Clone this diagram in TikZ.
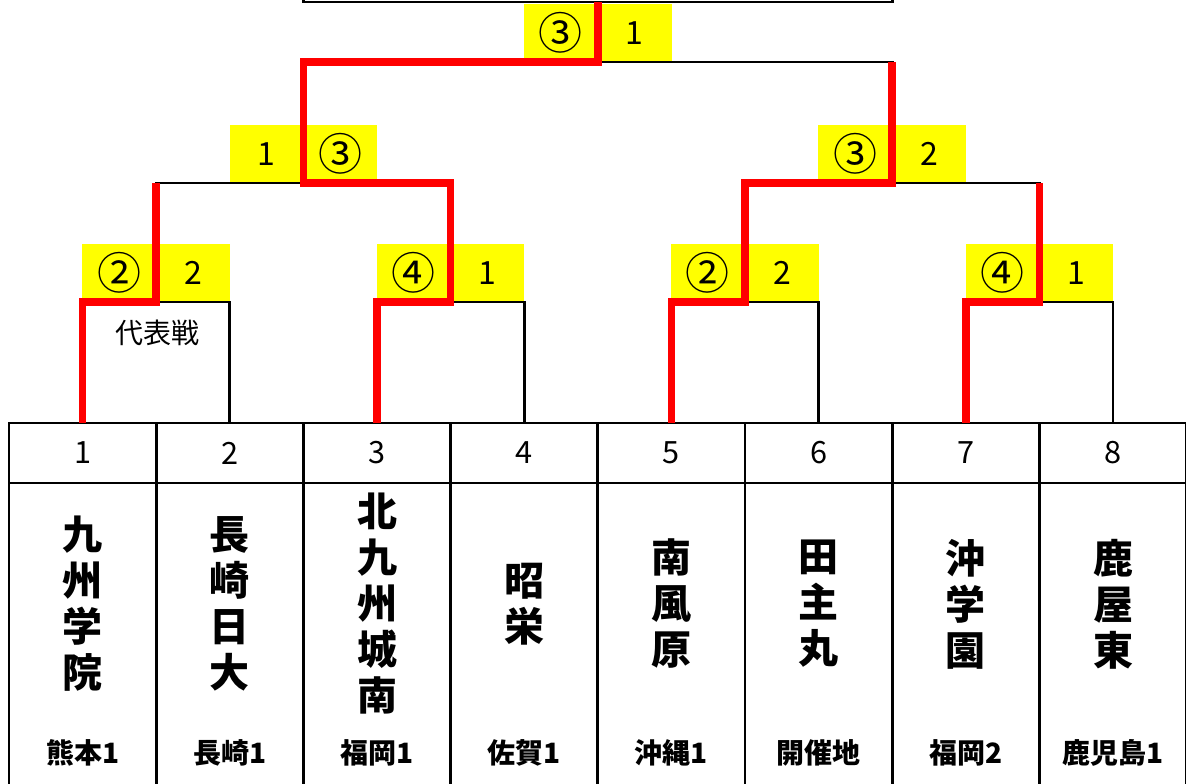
\documentclass[tikz,border=0pt]{standalone}
\usepackage{fontspec}
\setmainfont{Noto Sans CJK JP}
\usetikzlibrary{positioning, calc}
\definecolor{scoreyellow}{HTML}{FFFF00}
\definecolor{winred}{HTML}{FF0000}
\newcommand{\maru}[1]{{\fontsize{33}{33}\selectfont #1}}
\tikzset{
  cell/.style={draw, line width=2pt, minimum width=110.4pt, inner sep=0pt, outer sep=0pt},
  numcell/.style={cell, minimum height=45pt, font=\fontsize{23}{23}\selectfont},
  namecell/.style={cell, minimum height=235pt},
  teamname/.style={align=center, inner sep=0pt, font=\bfseries\fontsize{30}{34.5}\selectfont},
  pref/.style={inner sep=0pt, font=\bfseries\fontsize{21}{21}\selectfont},
  score/.style={fill=scoreyellow, minimum width=55.2pt, minimum height=43.5pt, inner sep=0pt, font=\fontsize{24}{24}\selectfont},
  bracket/.style={line width=2pt},
  win/.style={line width=5.8pt, winred, line join=miter},
  note/.style={inner sep=0pt, font=\fontsize{21}{21}\selectfont},
}

\begin{document}
\begin{tikzpicture}[x=0.75pt, y=-0.75pt]
  \path[use as bounding box, clip] (0,0) rectangle (1186,784);

  % Table
  \foreach \x/\name/\pref in {1/{九\\州\\学\\院}/熊本1, 2/{長\\崎\\日\\大}/長崎1,
      3/{北\\九\\州\\城\\南}/福岡1, 4/{昭\\栄}/佐賀1, 5/{南\\風\\原}/沖縄1,
      6/{田\\主\\丸}/開催地, 7/{沖\\学\\園}/福岡2, 8/{鹿\\屋\\東}/鹿児島1}{
    \pgfmathsetmacro\cx{9+(\x-0.5)*147.2}
    \node[numcell] (n\x) at (\cx,453) {\x};
    \node[namecell, below=0pt of n\x] (b\x) {};
    \node[teamname] (t\x) at (\cx,604) {\name};
    \node[pref] (p\x) at (\cx,753) {\pref};
  }

  % Scores
  \foreach \k/\a/\b in {1/\maru{②}/2, 2/\maru{④}/1, 3/\maru{②}/2, 4/\maru{④}/1}{
    \pgfmathsetmacro\mx{9+(2*\k-1)*147.2}
    \coordinate (m\k) at (\mx,302);
    \node[score, anchor=south east] (la\k) at (m\k) {\a};
    \node[score, anchor=south west] (ra\k) at (m\k) {\b};
  }
  \coordinate (s1) at (303.4,183);
  \coordinate (s2) at (892.2,183);
  \coordinate (f) at (597.8,62);
  \node[score, anchor=south east] (lb1) at (s1) {1};
  \node[score, anchor=south west] (rb1) at (s1) {\maru{③}};
  \node[score, anchor=south east] (lb2) at (s2) {\maru{③}};
  \node[score, anchor=south west] (rb2) at (s2) {2};
  \node[score, anchor=south east] (lc) at (f) {\maru{③}};
  \node[score, anchor=south west] (rc) at (f) {1};

  % Champion box
  \node[draw, line width=2pt, minimum width=441.6pt, minimum height=45pt, outer sep=0pt, anchor=south] (champ) at (597.8,2) {};

  % Bracket
  \foreach \k [evaluate=\k as \a using int(2*\k-1), evaluate=\k as \b using int(2*\k)] in {1,...,4}
    \draw[bracket] (n\a.north) |- (m\k) -| (n\b.north);
  \draw[bracket] (m1) |- (s1) -| (m2);
  \draw[bracket] (m3) |- (s2) -| (m4);
  \draw[bracket] (s1) |- (f) -| (s2);
  \draw[bracket] (f) -- (champ.south);

  % Winners
  \draw[win] (n1.north) |- (m1) -- (m1 |- s1);
  \draw[win] (n3.north) |- (m2) |- (s1) |- (f) -- (champ.south);
  \draw[win] (n5.north) |- (m3) |- (s2) -- (s2 |- f);
  \draw[win] (n7.north) |- (m4) -- (m4 |- s2);

  \node[note] (note) at (157,333) {代表戦};
\end{tikzpicture}
\end{document}
